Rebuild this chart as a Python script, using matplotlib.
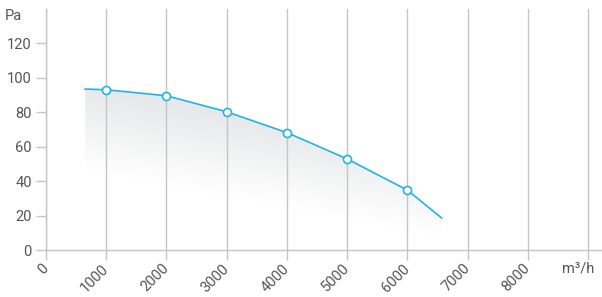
import numpy as np
import matplotlib
matplotlib.use("Agg")
import matplotlib.pyplot as plt
import matplotlib.transforms as mtrans
from matplotlib.patches import Polygon

plt.rcParams['font.family'] = ['Roboto', 'DejaVu Sans']

# Data
flow = [650, 1000, 2000, 3000, 4000, 5000, 6000, 6570]
pressure = [93.5, 93.1, 89.6, 80.3, 68.2, 52.9, 34.8, 18.6]
marker_flow = [1000, 2000, 3000, 4000, 5000, 6000]
marker_pressure = [93.1, 89.6, 80.3, 68.2, 52.9, 34.8]
x_ticks = [0, 1000, 2000, 3000, 4000, 5000, 6000, 7000, 8000, 9000]
x_labels = ['0', '1000', '2000', '3000', '4000', '5000', '6000', '7000', '8000', '']
y_ticks = [0, 20, 40, 60, 80, 100, 120]
x_unit = 'm³/h'
y_unit = 'Pa'

W, H = 602, 297
fig = plt.figure(figsize=(W / 100, H / 100), dpi=100)
left, right, top, bottom = 46, 602, 9, 250
ax = fig.add_axes([left / W, (H - bottom) / H, (right - left) / W, (bottom - top) / H])

xmax = 9000 * (right - left) / (588 - left)
ax.set_xlim(0, xmax)
ax.set_ylim(0, 140)

grid_c = '#c4c6c6'
line_c = '#22b4e8'
text_c = '#555555'
fs = 10.5

# gradient fill under curve
nx, ny = 400, 300
xs = np.linspace(0, xmax, nx)
ys = np.linspace(0, 140, ny)
X, Y = np.meshgrid(xs, ys)
y_fade = 46.6 - (38.4 / 5900.0) * (X - 650)
t = np.clip((Y - y_fade) / 48.0, 0, 1)
gray = np.array([0.905, 0.91, 0.915])
img = np.ones((ny, nx, 4))
for i in range(3):
    img[..., i] = 1 - t * (1 - gray[i])
img[..., 3] = 1.0
im = ax.imshow(img, extent=[0, xmax, 0, 140], origin='lower', aspect='auto', zorder=1,
               interpolation='bilinear')
poly_pts = list(zip(flow, pressure)) + [(flow[-1], 0), (flow[0], 0)]
poly = Polygon(poly_pts, closed=True, facecolor='none', edgecolor='none')
ax.add_patch(poly)
im.set_clip_path(poly)

# vertical grid
for xv in x_ticks:
    ax.axvline(xv, color=grid_c, lw=1.0, zorder=2)

ax.plot(flow, pressure, color=line_c, lw=1.2, zorder=3)
ax.plot(marker_flow, marker_pressure, 'o', ms=5.8, mfc='white', mec=line_c, mew=1.2, zorder=4)

for s in ['top', 'right']:
    ax.spines[s].set_visible(False)
for s in ['left', 'bottom']:
    ax.spines[s].set_color(grid_c)
    ax.spines[s].set_linewidth(1.0)

ax.set_xticks(x_ticks)
ax.set_xticklabels(x_labels, rotation=45, ha='right', va='top', rotation_mode='anchor')
ax.set_yticks(y_ticks)
ax.set_yticklabels([str(v) for v in y_ticks])
ax.tick_params(axis='both', color=grid_c, length=7.2, width=1.0, labelsize=fs,
               labelcolor=text_c)
ax.tick_params(axis='x', pad=1.0)
ax.tick_params(axis='y', pad=3)

offset = mtrans.ScaledTranslation(-5 / 100, 0, fig.dpi_scale_trans)
for lab in ax.get_xticklabels():
    lab.set_transform(lab.get_transform() + offset)

ax.text(8843, -10.5, x_unit, transform=ax.transData, ha='center', va='center',
        fontsize=fs, color=text_c, clip_on=False)
fig.text(22.5 / W, 1 - 15.5 / H, y_unit, ha='right', va='center', fontsize=fs, color=text_c)

fig.savefig('out.png', dpi=100, facecolor='white')
